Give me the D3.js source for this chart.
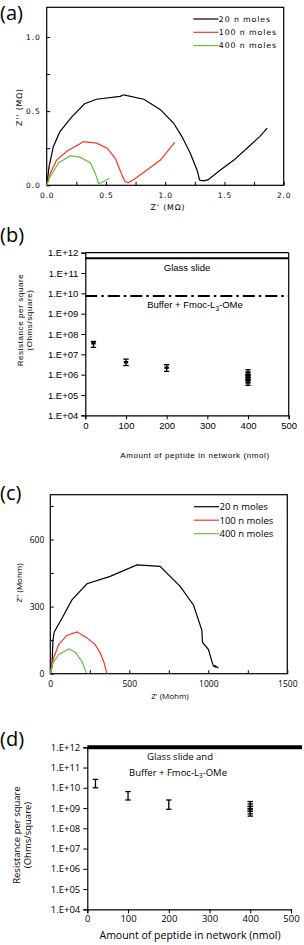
<!DOCTYPE html>
<html lang="en">
<head>
<meta charset="utf-8">
<title>impedance and resistance panels</title>
<script src="https://d3js.org/d3.v7.min.js"></script>
<style type="text/css">
	body { margin: 0; background: #fff; }
	svg { display: block; }
	.axis path, .axis line { stroke: #000; }
</style>
</head>
<body>
<script type="text/javascript">
// window setup
var w = 304
var h = 945

// ---- panel (a): Nyquist plot, MOhm ----
var a20 = [[0,0],[0.02,0.126],[0.056,0.26],[0.11,0.36],[0.21,0.46],[0.32,0.55],[0.42,0.58],[0.62,0.60],[0.65,0.61],
	[0.82,0.58],[0.96,0.51],[1.07,0.42],[1.14,0.33],[1.21,0.22],[1.27,0.10],[1.29,0.036],[1.32,0.03],[1.36,0.036],
	[1.46,0.10],[1.58,0.17],[1.69,0.25],[1.80,0.33],[1.86,0.385]]
var a100 = [[0,0],[0.03,0.08],[0.084,0.17],[0.17,0.23],[0.28,0.28],[0.31,0.295],[0.42,0.284],[0.51,0.25],[0.58,0.18],
	[0.63,0.08],[0.66,0.025],[0.69,0.018],[0.73,0.036],[0.84,0.10],[0.96,0.17],[1.08,0.29]]
var a400 = [[0,0],[0.03,0.06],[0.10,0.15],[0.20,0.20],[0.28,0.19],[0.37,0.15],[0.41,0.08],[0.44,0.01],[0.45,0.014],[0.53,0.047]]
var aXTicks = [0, 0.5, 1.0, 1.5, 2.0]
var aYTicks = [0, 0.5, 1.0]

// ---- panel (c): Nyquist plot, Mohm ----
var c20 = [[0,0],[10,30],[17,150],[25,187],[74,248],[137,330],[232,402],[379,435],[548,486],[695,480],[822,390],
	[906,307],[959,195],[963,141],[1001,108],[1020,62],[1033,33],[1045,30],[1040,38],[1064,25]]
var c100 = [[0,0],[21,70],[53,130],[105,171],[169,187],[232,160],[284,130],[316,93],[341,48],[358,0]]
var c400 = [[0,0],[17,48],[53,85],[116,111],[158,96],[200,55],[228,3]]
var cXTicks = [0, 500, 1000, 1500]
var cYTicks = [0, 300, 600]

var seriesNames = ["20 n moles", "100 n moles", "400 n moles"]
var seriesColors = ["#000000", "#ff3322", "#66c040"]

// ---- panel (b): resistance per square, ambient ----
var bX = [20, 100, 200, 400, 400, 400, 400, 400]
var bY = [3.5e7, 4.1e6, 2.2e6, 1.26e6, 9.5e5, 7.2e5, 5.5e5, 4.2e5]
var bHi = [4.3e7, 5.8e6, 3.1e6, 1.74e6, 1.3e6, 1.0e6, 7.6e5, 5.8e5]
var bLo = [2.2e7, 2.8e6, 1.45e6, 9.1e5, 6.9e5, 5.2e5, 4.0e5, 3.0e5]
var bGlass = 5.3e11
var bBuffer = 7.4e9

// ---- panel (d): resistance per square ----
var dX = [20, 100, 200, 400, 400, 400, 400, 400]
var dY = [1.6e10, 4.0e9, 1.5e9, 1.58e9, 1.2e9, 9.1e8, 6.9e8, 5.2e8]
var dHi = [2.6e10, 6.5e9, 2.5e9, 2.1e9, 1.6e9, 1.2e9, 9.1e8, 6.9e8]
var dLo = [1.0e10, 2.5e9, 8.7e8, 1.2e9, 9.1e8, 6.9e8, 5.2e8, 4.0e8]
var dGlassBuffer = 1e12

var logTicks = [1e4, 1e5, 1e6, 1e7, 1e8, 1e9, 1e10, 1e11, 1e12]
var amountTicks = [0, 100, 200, 300, 400, 500]

var svg = d3.select("body")
	.append("svg")
	.attr("width", w)
	.attr("height", h)

function logLabel(v) {
	var e = Math.round(Math.log10(v))
	return "1.E+" + (e < 10 ? "0" + e : e)
}

function panelLetter(txt, y) {
	svg.append("text")
		.attr("x", 0)
		.attr("y", y)
		.style("font-family", "Open Sans, sans-serif")
		.style("font-size", "20px")
		.text(txt)
}

// Nyquist panel with boxed frame and inward ticks
function nyquist(box, xDom, yDom, xTicks, yTicks, xMinor, yMinor, series, opt) {
	var x = d3.scaleLinear().domain(xDom).range([box.l, box.r])
	var y = d3.scaleLinear().domain(yDom).range([box.b, box.t])
	var g = svg.append("g")

	g.append("rect")
		.attr("x", box.l).attr("y", box.t)
		.attr("width", box.r - box.l).attr("height", box.b - box.t)
		.style("fill", "none").style("stroke", "#000").style("stroke-width", 1.2)

	g.append("g").attr("class", "axis")
		.attr("transform", "translate(0," + box.b + ")")
		.call(d3.axisBottom(x).tickValues(xMinor).tickSize(-3.5).tickPadding(7)
			.tickFormat(function(d) { return xTicks.indexOf(d) >= 0 ? opt.fmt(d) : "" }))
	g.append("g").attr("class", "axis")
		.attr("transform", "translate(" + box.l + ",0)")
		.call(d3.axisLeft(y).tickValues(yMinor).tickSize(-3.5).tickPadding(6)
			.tickFormat(function(d) { return yTicks.indexOf(d) >= 0 ? opt.fmt(d) : "" }))
	g.selectAll(".axis path").remove()
	g.selectAll(".axis text")
		.style("font-family", opt.font)
		.style("font-size", opt.tickSize)
		.style("letter-spacing", opt.spacing)
		.style("font-weight", opt.weight)

	var line = d3.line().x(function(d) { return x(d[0]) }).y(function(d) { return y(d[1]) })
	g.selectAll("path.curve")
		.data(series)
		.enter()
		.append("path")
		.attr("class", "curve")
		.attr("d", function(d) { return line(d) })
		.style("fill", "none")
		.style("stroke", function(d, i) { return seriesColors[i] })
		.style("stroke-width", 1.2)

	// legend
	seriesNames.forEach(function(n, i) {
		var ly = opt.legY + i * opt.legStep
		g.append("line")
			.attr("x1", opt.legX).attr("x2", opt.legX + 25)
			.attr("y1", ly).attr("y2", ly)
			.style("stroke", seriesColors[i]).style("stroke-width", 1.2)
		g.append("text")
			.attr("x", opt.legX + 25.5).attr("y", ly)
			.attr("dy", "0.35em")
			.style("font-family", opt.font)
			.style("font-size", opt.legSize)
			.style("letter-spacing", opt.spacing)
			.style("font-weight", opt.weight)
			.text(n)
	})

	g.append("text")
		.attr("transform", "translate(" + opt.yLabX + "," + opt.yLabY + ") rotate(-90)")
		.attr("text-anchor", "middle")
		.style("font-family", opt.font).style("font-size", opt.labSize)
		.style("letter-spacing", opt.spacing).style("font-weight", opt.weight)
		.text(opt.yLab)
	g.append("text")
		.attr("x", opt.xLabX).attr("y", opt.xLabY)
		.attr("text-anchor", "middle")
		.style("font-family", opt.font).style("font-size", opt.labSize)
		.style("letter-spacing", opt.spacing).style("font-weight", opt.weight)
		.text(opt.xLab)
}

// resistance panel with log y axis and error bars
function resistance(box, xs, ys, his, los, opt) {
	var x = d3.scaleLinear().domain([0, 500]).range([box.l, box.r])
	var y = d3.scaleLog().domain([1e4, 1e12]).range([box.b, box.t])
	var g = svg.append("g")

	g.append("g").attr("class", "axis")
		.attr("transform", "translate(0," + box.b + ")")
		.call(d3.axisBottom(x).tickValues(amountTicks).tickSize(4).tickPadding(opt.xPad))
	g.append("g").attr("class", "axis")
		.attr("transform", "translate(" + box.l + ",0)")
		.call(d3.axisLeft(y).tickValues(logTicks).tickSize(4).tickPadding(3).tickFormat(logLabel))
	g.selectAll(".axis path").style("stroke-width", 1.2)
	g.selectAll(".axis text")
		.style("font-family", opt.font)
		.style("font-size", opt.tickSize)

	if (opt.rightBorder) {
		g.append("line")
			.attr("x1", box.r).attr("x2", box.r).attr("y1", box.t).attr("y2", box.b)
			.style("stroke", "#000").style("stroke-width", 1.2)
		g.append("line")
			.attr("x1", box.l).attr("x2", box.r).attr("y1", box.t).attr("y2", box.t)
			.style("stroke", "#000").style("stroke-width", 1.2)
	}

	// reference lines
	opt.refs.forEach(function(r) {
		g.append("line")
			.attr("x1", box.l).attr("x2", r.x2 || box.r)
			.attr("y1", y(r.v)).attr("y2", y(r.v))
			.style("stroke", "#000")
			.style("stroke-width", r.width)
			.style("stroke-dasharray", r.dash || null)
	})

	// error bars
	var idx = d3.range(xs.length)
	var cap = 2.7
	g.selectAll("line.err")
		.data(idx).enter().append("line").attr("class", "err")
		.attr("x1", function(i) { return x(xs[i]) }).attr("x2", function(i) { return x(xs[i]) })
		.attr("y1", function(i) { return y(his[i]) }).attr("y2", function(i) { return y(los[i]) })
		.style("stroke", "#000").style("stroke-width", 1.3)
	g.selectAll("line.capHi")
		.data(idx).enter().append("line").attr("class", "capHi")
		.attr("x1", function(i) { return x(xs[i]) - cap }).attr("x2", function(i) { return x(xs[i]) + cap })
		.attr("y1", function(i) { return y(his[i]) }).attr("y2", function(i) { return y(his[i]) })
		.style("stroke", "#000").style("stroke-width", 1.3)
	g.selectAll("line.capLo")
		.data(idx).enter().append("line").attr("class", "capLo")
		.attr("x1", function(i) { return x(xs[i]) - cap }).attr("x2", function(i) { return x(xs[i]) + cap })
		.attr("y1", function(i) { return y(los[i]) }).attr("y2", function(i) { return y(los[i]) })
		.style("stroke", "#000").style("stroke-width", 1.3)
	if (opt.marker) {
		g.selectAll("rect.pt")
			.data(idx).enter().append("rect").attr("class", "pt")
			.attr("x", function(i) { return x(xs[i]) - 2.2 })
			.attr("y", function(i) { return y(ys[i]) - 1.2 })
			.attr("width", 4.4).attr("height", 2.4)
			.style("fill", "#000")
	}

	opt.notes.forEach(function(n) {
		var t = g.append("text")
			.attr("x", n.x).attr("y", n.y)
			.attr("text-anchor", "middle")
			.style("font-family", opt.font)
			.style("font-size", opt.noteSize)
		t.append("tspan").text(n.a)
		if (n.sub) {
			t.append("tspan").attr("dy", 2.5).style("font-size", "6.5px").text(n.sub)
			t.append("tspan").attr("dy", -2.5).text(n.b)
		}
	})

	// axis titles
	g.append("text")
		.attr("transform", "translate(" + opt.yLabX[0] + "," + opt.yLabY + ") rotate(-90)")
		.attr("text-anchor", "middle")
		.style("font-family", opt.font).style("font-size", opt.labSize)
		.style("letter-spacing", opt.labSpacing)
		.text("Resistance per square")
	g.append("text")
		.attr("transform", "translate(" + opt.yLabX[1] + "," + opt.yLabY + ") rotate(-90)")
		.attr("text-anchor", "middle")
		.style("font-family", opt.font).style("font-size", opt.labSize)
		.style("letter-spacing", opt.labSpacing)
		.text("(Ohms/square)")
	g.append("text")
		.attr("x", opt.xLabX).attr("y", opt.xLabY)
		.attr("text-anchor", "middle")
		.style("font-family", opt.font).style("font-size", opt.xLabSize)
		.style("letter-spacing", opt.labSpacing)
		.text("Amount of peptide in network (nmol)")
}

// (a)
panelLetter("(a)", 20)
nyquist({ l: 46.7, r: 283.7, t: 7.3, b: 185.3 }, [0, 2], [0, 1.2], aXTicks, aYTicks,
	[0, 0.25, 0.5, 0.75, 1.0, 1.25, 1.5, 1.75, 2.0], [0, 0.25, 0.5, 0.75, 1.0],
	[a20, a100, a400],
	{ fmt: d3.format(".1f"), font: "DejaVu Sans, sans-serif", tickSize: "7.5px", spacing: "0.9px", weight: "normal",
	  legX: 193.3, legY: 19, legStep: 13.3, legSize: "7.8px", labSize: "7.8px",
	  yLab: "Z'' (M\u03A9)", yLabX: 22, yLabY: 107, xLab: "Z' (M\u03A9)", xLabX: 168, xLabY: 210 })

// (b)
panelLetter("(b)", 242)
resistance({ l: 85.3, r: 288.7, t: 252.7, b: 415.3 }, bX, bY, bHi, bLo,
	{ font: "Liberation Sans, Arial, sans-serif", tickSize: "9.5px", xPad: 3, rightBorder: true, marker: true,
	  refs: [{ v: bGlass, width: 2 }, { v: bBuffer, width: 2, dash: "12,4,2.5,4" }],
	  notes: [{ x: 187, y: 270.5, a: "Glass slide" }, { x: 195, y: 308, a: "Buffer + Fmoc-L", sub: "3", b: "-OMe" }],
	  noteSize: "9.5px", labSize: "8px", labSpacing: "0.6px", xLabSize: "8px",
	  yLabX: [23, 31.5], yLabY: 320, xLabX: 195, xLabY: 458 })

// (c)
panelLetter("(c)", 500)
nyquist({ l: 50.3, r: 287.3, t: 494.7, b: 673.7 }, [0, 1500], [0, 800], cXTicks, cYTicks,
	[0, 250, 500, 750, 1000, 1250, 1500], [0, 150, 300, 450, 600, 750],
	[c20, c100, c400],
	{ fmt: d3.format("d"), font: "Open Sans, sans-serif", tickSize: "8.5px", spacing: "0px", weight: "normal",
	  legX: 194, legY: 506.7, legStep: 13.5, legSize: "9.5px", labSize: "8px",
	  yLab: "Z'' (Mohm)", yLabX: 22, yLabY: 583, xLab: "Z' (Mohm)", xLabX: 170, xLabY: 699 })

// (d)
panelLetter("(d)", 746)
resistance({ l: 87.3, r: 291, t: 747.3, b: 909.3 }, dX, dY, dHi, dLo,
	{ font: "Open Sans, sans-serif", tickSize: "9.5px", xPad: 2, rightBorder: false, marker: false,
	  refs: [{ v: dGlassBuffer, width: 4, x2: 302 }],
	  notes: [{ x: 180, y: 759.5, a: "Glass slide and" }, { x: 178, y: 775.5, a: "Buffer + Fmoc-L", sub: "3", b: "-OMe" }],
	  noteSize: "9.5px", labSize: "9.5px", labSpacing: "0px", xLabSize: "10.5px",
	  yLabX: [19.5, 30.5], yLabY: 835, xLabX: 190, xLabY: 939 })
</script>
</body>
</html>
